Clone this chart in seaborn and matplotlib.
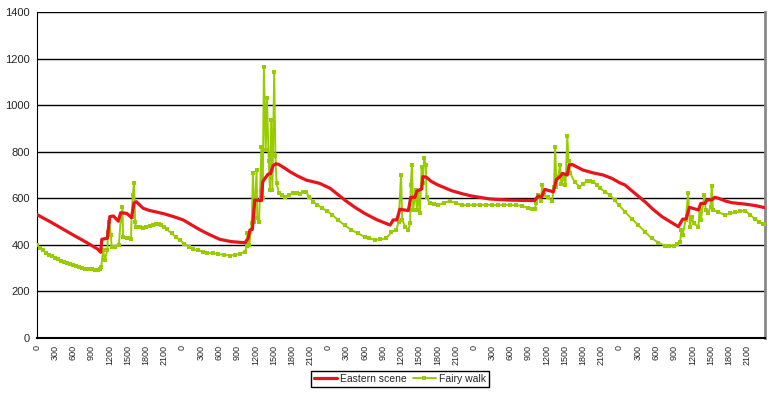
import numpy as np
import pandas as pd
import matplotlib
matplotlib.use("Agg")
import matplotlib.pyplot as plt
import seaborn as sns

# hours since the start of the first day
east_hours = [0, 2, 4, 6, 8, 10, 10.5,
              10.7, 11.6, 12.0, 12.6, 13.4, 13.8, 14.8, 15.6, 16.0, 16.4, 17.5, 18.5, 19.7, 21.0, 21.9, 23.0, 24.1,
              26.9, 28.5, 30.1, 32, 34.3,
              34.8, 35.1, 35.5, 35.9, 37.0, 37.2, 37.6, 38.1, 38.5, 38.9, 39.4, 39.8, 40.8, 41.7, 43, 44.4, 46.6, 48.3,
              50.7, 52.3, 54.0, 56, 58.2,
              58.7, 59.3, 59.8, 61.2, 61.6, 62.3, 62.6, 63.4, 63.6, 64.2, 65, 66.1, 68.3, 70, 71.6,
              74.6, 77.9, 82.0,
              82.6, 83.1, 83.7, 85.1, 85.6, 86.2, 86.6, 87.4, 87.7, 88.2, 90.0, 91.5, 93.3, 94.7, 96.0, 96.9,
              98.5, 100.2, 101.5, 103.0, 104.5, 105.7,
              106.4, 107.0, 107.5, 109.0, 109.4, 110.1, 110.4, 111.2, 111.7, 112.3, 113.5, 114.5, 116.7, 118.5, 119.7, 120]
east_vals = [530, 502, 472, 442, 413, 382, 368,
             424, 428, 521, 524, 502, 538, 535, 517, 580, 585, 557, 548, 541, 533, 526, 517, 507,
             464, 443, 424, 414, 409,
             428, 464, 466, 593, 590, 671, 686, 704, 706, 740, 748, 746, 730, 714, 695, 678, 664, 643,
             593, 563, 535, 508, 485,
             507, 507, 553, 547, 604, 604, 631, 640, 693, 690, 672, 657, 633, 620, 610,
             597, 592, 590,
             610, 604, 638, 628, 681, 693, 707, 700, 743, 745, 721, 710, 700, 686, 667, 657,
             622, 585, 553, 521, 497, 478,
             510, 512, 561, 550, 578, 578, 593, 593, 604, 600, 588, 581, 575, 568, 561, 560]

fairy_hours = [0, 0.5, 1, 1.5, 2, 2.5, 3, 3.5, 4, 4.5, 5, 5.5, 6, 6.5, 7, 7.5, 8, 8.5, 9, 9.5, 10, 10.4,
               10.6, 10.9, 11.2, 11.6, 11.7, 11.9, 12.2, 12.3, 12.8, 13.5, 13.8, 14.1, 14.2, 14.8, 15.3, 15.5,
               15.6, 15.8, 16.0, 16.2, 16.3, 17.0, 17.5, 18.0, 18.6, 19.2, 19.7, 20.1, 20.5, 21.0, 21.4, 22.2,
               23.0, 23.6, 24.3, 25.1, 25.8, 26.5, 27.3, 28.1, 29.0, 29.9, 30.8, 31.8, 32.6, 33.5, 34.3,
               34.6, 34.7, 35.0, 35.4, 35.6, 35.8, 36.2, 36.3, 36.6, 37.0, 37.2, 37.4, 37.7, 37.9, 38.2, 38.4,
               38.6, 38.8, 39.1, 39.3, 39.5, 39.9, 40.4, 40.9, 41.5, 42.2, 42.8, 43.3, 43.8, 44.3, 44.9, 45.5,
               46.2, 47.0, 47.8, 48.7, 49.6, 50.7, 51.8, 52.9, 54.0, 54.8, 55.7, 56.6, 57.6,
               58.4, 59.2, 59.6, 60.0, 60.2, 60.7, 61.2, 61.5, 61.6, 61.8, 62.0, 62.4, 62.6, 62.8, 63.1, 63.4,
               63.6, 63.8, 64.1, 64.2, 64.7, 65.4, 66.1, 67.0, 68.0, 69.0, 70.0, 71.0, 72.1, 73.0, 74.0, 75.0,
               76.0, 77.0, 78.0, 79.0, 80.0, 80.9, 81.5, 82.0,
               82.3, 82.6, 83.0, 83.3, 83.5, 84.2, 84.9, 85.2, 85.4, 85.6, 85.9, 86.2, 86.4, 86.8, 87.1, 87.4,
               87.6, 87.9, 88.6, 89.4, 90.0, 90.6, 91.2, 91.7, 92.3, 92.8, 93.6, 94.4, 95.2, 95.9, 96.9, 98.0,
               99.1, 100.2, 101.3, 102.4, 103.5, 104.2, 104.9, 105.5, 106.0,
               106.2, 106.4, 106.9, 107.3, 107.6, 107.9, 108.2, 109.0, 109.2, 109.4, 110.0, 110.2, 110.6, 111.0,
               111.2, 111.4, 112.3, 113.4, 114.2, 115.0, 115.8, 116.7, 117.5, 118.3, 119.0, 119.7, 120]
fairy_vals = [399, 388, 376, 366, 358, 351, 345, 338, 332, 327, 322, 317, 312, 308, 305, 301, 298, 296, 295, 293, 292, 296,
              305, 378, 335, 378, 456, 499, 442, 392, 392, 400, 504, 561, 432, 430, 430, 425,
              521, 614, 667, 499, 478, 476, 474, 477, 481, 487, 490, 489, 485, 475, 467, 449,
              432, 420, 405, 392, 382, 376, 371, 367, 364, 360, 357, 354, 356, 362, 371,
              395, 450, 400, 493, 707, 500, 721, 515, 499, 821, 600, 1165, 806, 1029, 760, 635,
              936, 636, 1143, 783, 664, 621, 612, 607, 615, 624, 622, 620, 625, 628, 607, 585,
              572, 558, 545, 528, 507, 485, 464, 449, 435, 428, 421, 424, 428,
              456, 463, 500, 700, 507, 478, 464, 492, 657, 745, 550, 636, 550, 628, 535, 736,
              665, 771, 743, 607, 578, 574, 571, 580, 588, 580, 571, 570, 571, 573, 571, 572,
              570, 572, 571, 570, 568, 557, 556, 554,
              578, 614, 590, 657, 614, 604, 590, 650, 821, 650, 693, 743, 660, 693, 655, 867,
              758, 707, 671, 650, 660, 675, 676, 671, 657, 643, 628, 614, 592, 571, 542, 512,
              485, 456, 428, 410, 396, 394, 395, 402, 414,
              464, 443, 507, 621, 478, 521, 492, 478, 550, 507, 614, 550, 535, 564,
              654, 550, 540, 528, 535, 540, 544, 547, 530, 511, 500, 490, 488]

tick_labels = ["0", "300", "600", "900", "1200", "1500", "1800", "2100"] * 5

east = pd.DataFrame({"hour": east_hours, "value": east_vals})
fairy = pd.DataFrame({"hour": fairy_hours, "value": fairy_vals})

sns.set_style("white")
plt.rcParams["font.family"] = ["Liberation Sans", "DejaVu Sans"]

fig = plt.figure(figsize=(7.69, 3.96), dpi=100)
ax = fig.add_axes([0.048, 0.1465, 0.947, 0.8232])

red = "#E8141C"
green = "#99CC00"

# red series sits on top of the green one, like in the original
sns.lineplot(data=east, x="hour", y="value", ax=ax, color=red, linewidth=2.3,
             estimator=None, sort=False, label="Eastern scene", zorder=4)
sns.lineplot(data=fairy, x="hour", y="value", ax=ax, color=green, linewidth=1.4,
             marker="s", markersize=2.6, markeredgewidth=0, estimator=None, sort=False,
             label="Fairy walk", zorder=3)

ax.set_xlim(0, 120)
ax.set_ylim(0, 1400)
ax.set_yticks(range(0, 1401, 200))
ax.set_xticks(np.arange(0, 120, 3))
ax.set_xticklabels(tick_labels, rotation=90, fontsize=6.5)
ax.set_xticks(np.arange(0, 120, 0.25), minor=True)
ax.tick_params(axis="x", which="both", direction="out", length=3, width=0.8, color="black", pad=2)
ax.tick_params(axis="y", direction="out", length=3, width=0.8, color="black", labelsize=8, pad=2)
ax.set_xlabel("")
ax.set_ylabel("")

ax.grid(axis="y", color="black", linewidth=1)
ax.set_axisbelow(True)
ax.spines["top"].set_visible(False)
ax.spines["left"].set_color("black")
ax.spines["bottom"].set_color("black")
ax.spines["bottom"].set_linewidth(1.5)
ax.spines["right"].set_color("#888888")
ax.spines["right"].set_linewidth(2)

ax.legend(loc="center", bbox_to_anchor=(0.52, 0.043), bbox_transform=fig.transFigure,
          ncol=2, fontsize=7.5, frameon=True, fancybox=False, edgecolor="black",
          handlelength=2.2, handletextpad=0.3, columnspacing=0.6, borderpad=0.3,
          framealpha=1)

fig.savefig("out.png", dpi=100)
